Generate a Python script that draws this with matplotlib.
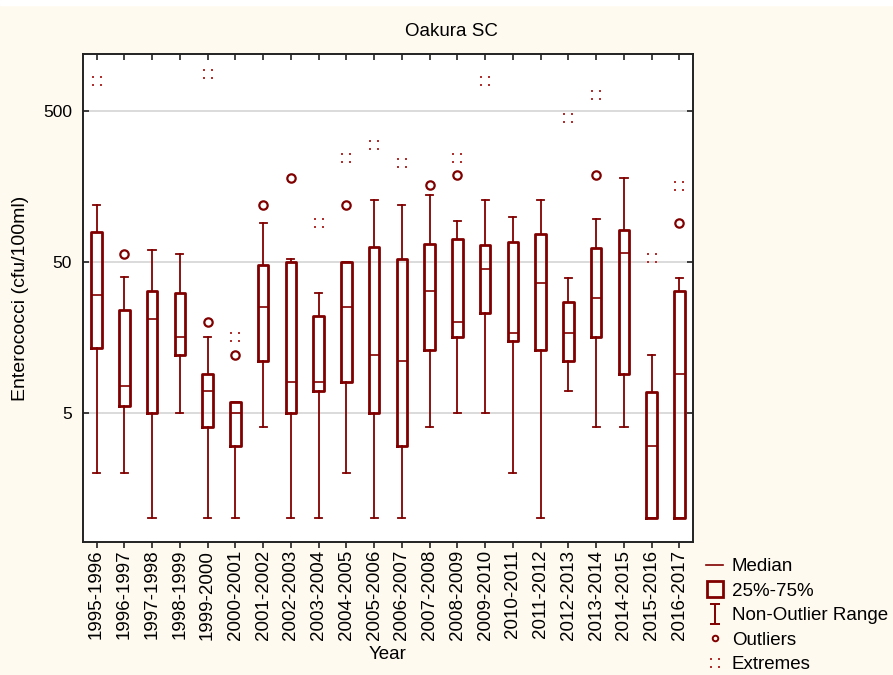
import matplotlib
matplotlib.use('Agg')
import matplotlib.pyplot as plt
from matplotlib.path import Path
from matplotlib.lines import Line2D
from matplotlib.patches import Rectangle
from matplotlib.ticker import NullLocator, FixedLocator, FixedFormatter

plt.rcParams['font.family'] = ['Liberation Sans', 'DejaVu Sans']

# Season labels
seasons = ['1995-1996', '1996-1997', '1997-1998', '1998-1999', '1999-2000',
           '2000-2001', '2001-2002', '2002-2003', '2003-2004', '2004-2005',
           '2005-2006', '2006-2007', '2007-2008', '2008-2009', '2009-2010',
           '2010-2011', '2011-2012', '2012-2013', '2013-2014', '2014-2015',
           '2015-2016', '2016-2017']

# Box statistics (cfu/100ml)
medians = [30, 7.5, 21, 16, 7, 5, 25, 8, 8, 25, 12, 11, 32, 20, 45, 17,
           36, 17, 29, 57, 3, 9]
q1 = [13.5, 5.5, 5, 12, 4, 3, 11, 5, 7, 8, 5, 3, 13, 16, 23, 15, 13, 11,
      16, 9, 1, 1]
q3 = [79, 24, 32, 31, 9, 5.9, 48, 50, 22, 50, 63, 52, 66, 71, 65, 68, 77,
      27, 62, 81, 6.9, 32]
whisker_low = [2, 2, 1, 5, 1, 1, 4, 1, 1, 2, 1, 1, 4, 5, 5, 2, 1, 7, 4, 4,
               1, 1]
whisker_high = [120, 40, 60, 56, 16, 5.9, 90, 52, 31, 50, 128, 120, 139,
                94, 128, 100, 129, 39, 96, 181, 12, 39]

# Outliers and extremes: (season index, value)
outlier_idx = [1, 4, 5, 6, 7, 9, 12, 13, 18, 21]
outlier_val = [56, 20, 12, 119, 181, 119, 162, 189, 189, 91]
extreme_idx = [0, 4, 5, 8, 9, 10, 11, 13, 14, 17, 18, 20, 21]
extreme_val = [795, 880, 15.8, 91, 246, 298, 227, 246, 795, 447, 635, 53,
               159]

dark_red = '#800000'

# four-dot marker for extremes
verts, codes = [], []
for cx, cy in [(-1, -1), (1, -1), (-1, 1), (1, 1)]:
    s = 0.22
    verts += [(cx - s, cy - s), (cx + s, cy - s), (cx + s, cy + s),
              (cx - s, cy + s), (cx - s, cy - s)]
    codes += [Path.MOVETO, Path.LINETO, Path.LINETO, Path.LINETO,
              Path.CLOSEPOLY]
dots_marker = Path(verts, codes)

# I-shaped marker for the non-outlier range
range_marker = Path([(-0.5, -1), (0.5, -1), (0, -1), (0, 1), (-0.5, 1),
                     (0.5, 1)],
                    [Path.MOVETO, Path.LINETO, Path.MOVETO, Path.LINETO,
                     Path.MOVETO, Path.LINETO])

fig = plt.figure(figsize=(8.93, 6.75), dpi=100, facecolor='#fffaf0')
fig.patches.append(Rectangle((0, 1 - 5 / 675), 1, 5 / 675,
                             transform=fig.transFigure, color='white',
                             zorder=0))
ax = fig.add_axes([83 / 893, 133 / 675, 610 / 893, 488 / 675])
ax.set_facecolor('white')

stats = []
for i in range(len(seasons)):
    stats.append({'med': medians[i], 'q1': q1[i], 'q3': q3[i],
                  'whislo': whisker_low[i], 'whishi': whisker_high[i],
                  'fliers': []})

positions = list(range(len(seasons)))
ax.bxp(stats, positions=positions, widths=0.38, capwidths=0.26,
       showfliers=False,
       boxprops=dict(color=dark_red, linewidth=2.0),
       whiskerprops=dict(color=dark_red, linewidth=1.3),
       capprops=dict(color=dark_red, linewidth=1.3),
       medianprops=dict(color=dark_red, linewidth=1.2),
       zorder=3)

ax.plot(outlier_idx, outlier_val, linestyle='none', marker='o',
        markersize=6, markerfacecolor='none', markeredgecolor=dark_red,
        markeredgewidth=1.6, zorder=4)
ax.plot(extreme_idx, extreme_val, linestyle='none', marker=dots_marker,
        markersize=7.5, color='#b03030', markeredgewidth=0, zorder=4)

ax.set_yscale('log')
ax.set_ylim(0.695, 1195)
ax.set_xlim(-0.49, len(seasons) - 0.51)
ax.yaxis.set_major_locator(FixedLocator([5, 50, 500]))
ax.yaxis.set_major_formatter(FixedFormatter(['5', '50', '500']))
ax.yaxis.set_minor_locator(NullLocator())
ax.grid(axis='y', color='#d8d8d8', linewidth=1.3, zorder=0)
ax.set_axisbelow(True)

ax.set_xticks(positions)
ax.set_xticklabels(seasons, rotation=90, fontsize=13.5)
ax.tick_params(axis='x', direction='out', length=4, width=1.2, pad=1.5,
               colors='#222222', labelcolor='black')
ax.tick_params(axis='y', direction='in', length=4, width=1.2, right=True,
               labelsize=12.5, pad=8, colors='#222222', labelcolor='black')

top = ax.secondary_xaxis('top')
top.set_xticks(positions)
top.set_xticklabels([])
top.tick_params(direction='in', length=4, width=1.2, colors='#222222')

for sp in ax.spines.values():
    sp.set_linewidth(1.4)
    sp.set_color('#222222')
top.spines['top'].set_visible(False)

# title is centred on the whole figure, not on the axes
fig.text(0.506, 643 / 675, 'Oakura SC', fontsize=13.5, ha='center',
         va='center')
ax.set_xlabel('Year', fontsize=13.5, labelpad=4)
ax.set_ylabel('Enterococci (cfu/100ml)', fontsize=14, labelpad=10)

handles = [
    Line2D([], [], color=dark_red, linewidth=1.2),
    Line2D([], [], linestyle='none', marker='s', markersize=11,
           markerfacecolor='none', markeredgecolor=dark_red,
           markeredgewidth=2),
    Line2D([], [], linestyle='none', marker=range_marker, markersize=14,
           color=dark_red, markeredgewidth=1.4),
    Line2D([], [], linestyle='none', marker='o', markersize=4,
           markerfacecolor='none', markeredgecolor=dark_red,
           markeredgewidth=1.4),
    Line2D([], [], linestyle='none', marker=dots_marker, markersize=6.5,
           color='#b03030', markeredgewidth=0),
]
labels = ['Median', '25%-75%', 'Non-Outlier Range', 'Outliers', 'Extremes']
fig.legend(handles, labels, loc='upper left',
           bbox_to_anchor=(0.791, 0.173), frameon=False, fontsize=13.5,
           handlelength=0.9, handletextpad=0.45, labelspacing=0.39,
           borderaxespad=0, borderpad=0)

fig.savefig('out.png', dpi=100, facecolor=fig.get_facecolor())
